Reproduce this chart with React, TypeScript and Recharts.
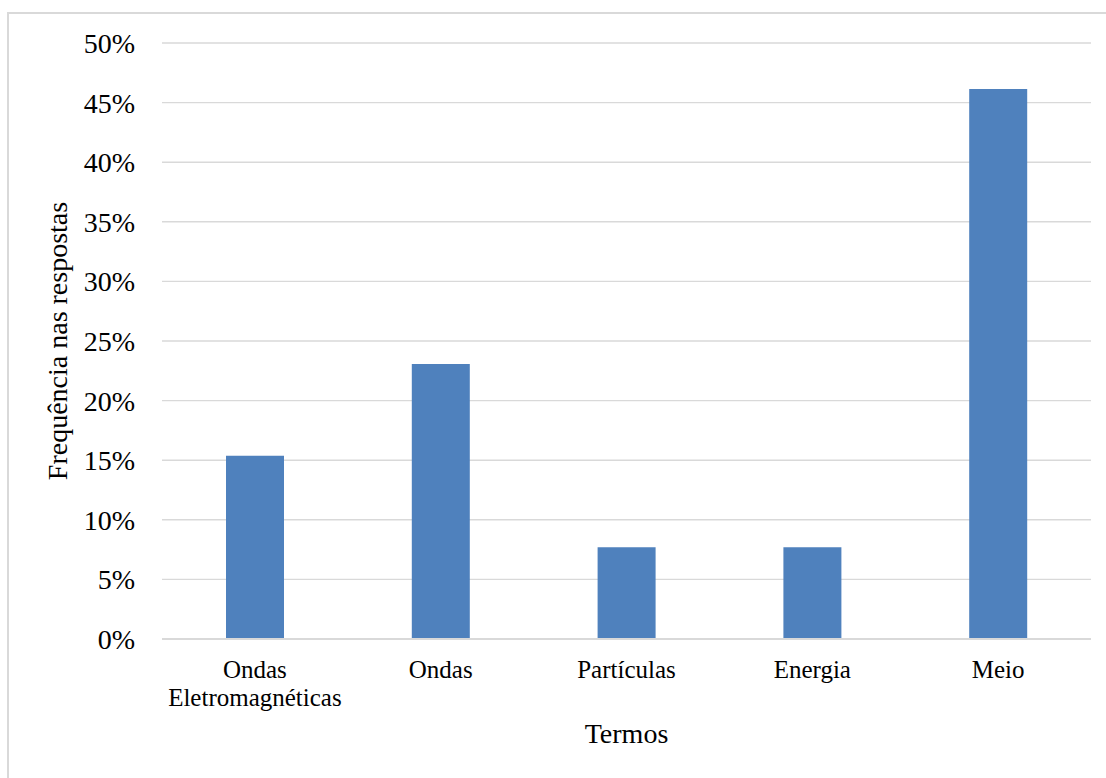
import React from "react";
import { BarChart, Bar, XAxis, YAxis, CartesianGrid, Label } from "recharts";

// Share of answers mentioning each term
const categories = ["Ondas Eletromagnéticas", "Ondas", "Partículas", "Energia", "Meio"];
const shares = [0.1538, 0.2308, 0.0769, 0.0769, 0.4615];
const yTicks = [0, 0.05, 0.1, 0.15, 0.2, 0.25, 0.3, 0.35, 0.4, 0.45, 0.5];

const data = categories.map((name, i) => ({ name, value: shares[i] }));

const FONT = "'Liberation Serif', 'Times New Roman', serif";
const GRID = "#d9d9d9";

const pct = (v: number) => `${Math.round(v * 100)}%`;

// Category labels wrap one word per line
const CategoryTick = (props: any) => {
  const { x, y, payload } = props;
  const words = String(payload.value).split(" ");
  return (
    <text x={x} y={y + 39} textAnchor="middle" fontFamily={FONT} fontSize={25} fill="#000">
      {words.map((w, i) => (
        <tspan key={i} x={x} dy={i === 0 ? 0 : 28}>
          {w}
        </tspan>
      ))}
    </text>
  );
};

export default function App() {
  return (
    <div
      style={{
        position: "absolute",
        left: 0,
        top: 0,
        width: 1106,
        height: 778,
        background: "#fff",
        overflow: "hidden",
      }}
    >
      <div
        style={{
          position: "absolute",
          left: 7,
          top: 12,
          width: 1300,
          height: 1000,
          borderLeft: `2px solid ${GRID}`,
          borderTop: `2px solid ${GRID}`,
        }}
      />
      <div style={{ position: "absolute", left: 0, top: 0 }}>
        <BarChart
          width={1106}
          height={778}
          data={data}
          margin={{ top: 43, right: 15, bottom: 0, left: 0 }}
          barSize={58}
        >
          <CartesianGrid vertical={false} stroke={GRID} strokeWidth={1.4} />
          <XAxis
            dataKey="name"
            axisLine={{ stroke: GRID, strokeWidth: 2 }}
            tickLine={false}
            tickSize={0}
            tickMargin={0}
            interval={0}
            tick={<CategoryTick />}
            height={139}
          >
            <Label
              content={(p: any) => {
                const vb = p.viewBox;
                return (
                  <text
                    x={vb.x + vb.width / 2}
                    y={743}
                    textAnchor="middle"
                    fontFamily={FONT}
                    fontSize={28}
                    fill="#000"
                  >
                    Termos
                  </text>
                );
              }}
            />
          </XAxis>
          <YAxis
            domain={[0, 0.5]}
            ticks={yTicks}
            tickFormatter={pct}
            axisLine={false}
            tickLine={false}
            tickSize={0}
            tickMargin={27}
            width={162}
            tick={{ fontFamily: FONT, fontSize: 28, fill: "#000" }}
          >
            <Label
              content={(p: any) => {
                const vb = p.viewBox;
                const cy = vb.y + vb.height / 2;
                return (
                  <text
                    x={57}
                    y={cy}
                    transform={`rotate(-90, 57, ${cy})`}
                    textAnchor="middle"
                    dominantBaseline="central"
                    fontFamily={FONT}
                    fontSize={28}
                    fill="#000"
                  >
                    Frequência nas respostas
                  </text>
                );
              }}
            />
          </YAxis>
          <Bar dataKey="value" fill="#4f81bd" isAnimationActive={false} />
        </BarChart>
      </div>
    </div>
  );
}
